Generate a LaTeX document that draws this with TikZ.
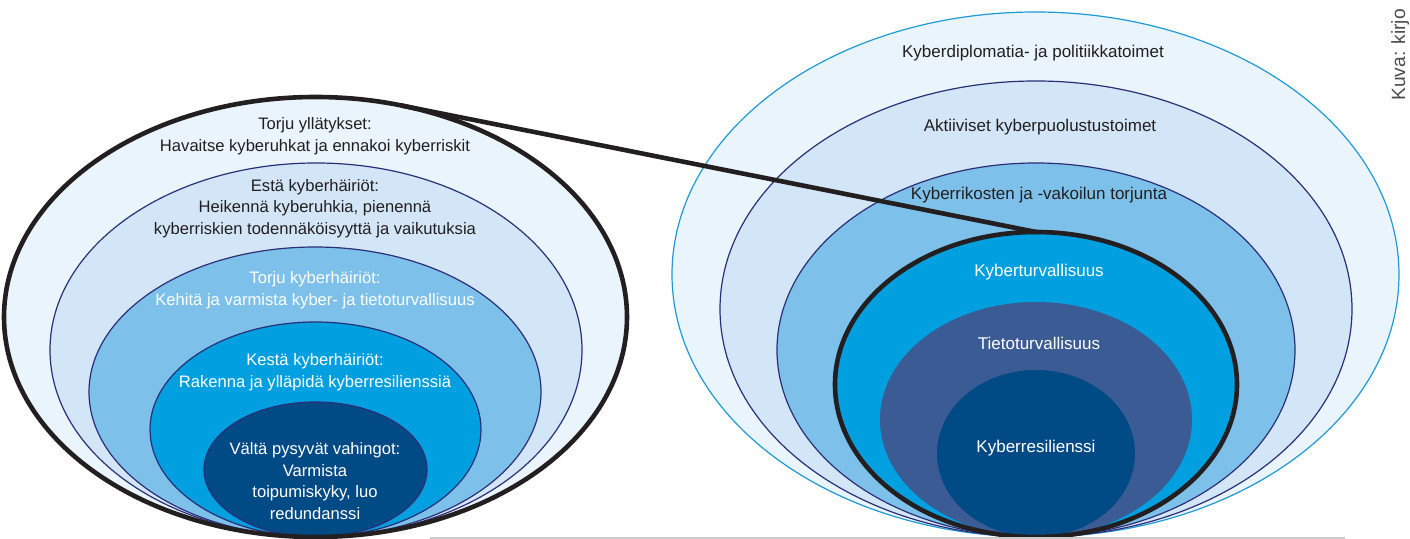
\documentclass[tikz,border=0pt]{standalone}
\usepackage{fontspec}
\setmainfont{Liberation Sans}
\usetikzlibrary{shapes.geometric,calc}
\definecolor{cPale}{HTML}{E9F4FC}
\definecolor{cLight}{HTML}{D3E6F7}
\definecolor{cMid}{HTML}{7DC1EA}
\definecolor{cCyan}{HTML}{009FDF}
\definecolor{cDark}{HTML}{004A86}
\definecolor{cSlate}{HTML}{3B5B94}
\definecolor{cNavy}{HTML}{2A2F78}
\definecolor{cSky}{HTML}{1E9AD6}
\definecolor{cInk}{HTML}{231F20}
\begin{document}
\begin{tikzpicture}[x=0.5pt,y=-0.5pt,
  ring/.style={ellipse, inner sep=0pt, outer sep=0pt},
  thinring/.style={ring, draw=cNavy, line width=0.6pt},
  heavyring/.style={ring, draw=cInk, line width=2.3pt},
  heavyline/.style={draw=cInk, line width=2.3pt, line cap=round},
  darktxt/.style={text=cInk, align=center, font=\fontsize{8.3}{10.8}\selectfont},
  whitetxt/.style={text=white, align=center, font=\fontsize{8.3}{10.8}\selectfont},
  rdarktxt/.style={text=cInk, font=\fontsize{8.5}{10.8}\selectfont},
  rwhitetxt/.style={text=white, font=\fontsize{8.5}{10.8}\selectfont}]
\useasboundingbox (0,0) rectangle (1410,539);
\clip (0,0) rectangle (1410,539);

% ---------------- left group ----------------
\node[ring, fill=cPale, minimum width=311.5pt, minimum height=220pt] (L1f) at (315.5,317) {};
\node[thinring, fill=cLight, minimum width=266pt, minimum height=187pt] (L2) at (316,350) {};
\node[thinring, fill=cMid, minimum width=226pt, minimum height=145pt] (L3) at (315,392) {};
\node[thinring, fill=cCyan, minimum width=165.5pt, minimum height=107.5pt] (L4) at (315.5,429.5) {};
\node[thinring, fill=cDark, minimum width=111.5pt, minimum height=67.5pt] (L5) at (315.5,469.5) {};
\node[heavyring, minimum width=311.5pt, minimum height=220pt] (L1) at (315.5,317) {};

\node[darktxt] (t1) at (315,136) {Torju yllätykset:\\Havaitse kyberuhkat ja ennakoi kyberriskit};
\node[darktxt] (t2) at (315,208.5) {Estä kyberhäiriöt:\\Heikennä kyberuhkia, pienennä\\kyberriskien todennäköisyyttä ja vaikutuksia};
\node[whitetxt] (t3) at (315,290.5) {Torju kyberhäiriöt:\\Kehitä ja varmista kyber- ja tietoturvallisuus};
\node[whitetxt] (t4) at (315,372.5) {Kestä kyberhäiriöt:\\Rakenna ja ylläpidä kyberresilienssiä};
\node[whitetxt] (t5) at (315,481) {Vältä pysyvät vahingot:\\Varmista\\toipumiskyky, luo\\redundanssi};

% ---------------- right group ----------------
\node[ring, draw=cSky, line width=0.6pt, fill=cPale, minimum width=363.5pt, minimum height=262.5pt] (R1) at (1035.5,274.5) {};
\node[thinring, fill=cLight, minimum width=316pt, minimum height=228pt] (R2) at (1036,309) {};
\node[thinring, fill=cMid, minimum width=259pt, minimum height=187pt] (R3) at (1036,350) {};
\node[ring, fill=cCyan, minimum width=201pt, minimum height=152.5pt] (R4f) at (1036,384.5) {};
\node[ring, fill=cSlate, minimum width=156pt, minimum height=117.5pt] (R5) at (1036,419.5) {};
\node[ring, fill=cDark, minimum width=99pt, minimum height=83.5pt] (R6) at (1036,453.5) {};
\node[heavyring, minimum width=201pt, minimum height=152.5pt] (R4) at (1036,384.5) {};

\node[rdarktxt] (r1) at (1033,53) {Kyberdiplomatia- ja politiikkatoimet};
\node[rdarktxt] (r2) at (1040,127) {Aktiiviset kyberpuolustustoimet};
\node[rdarktxt] (r3) at (1039,195) {Kyberrikosten ja -vakoilun torjunta};
\node[rwhitetxt] (r4) at (1039,272) {Kyberturvallisuus};
\node[rwhitetxt] (r5) at (1039,343) {Tietoturvallisuus};
\node[rwhitetxt] (r6) at (1036,448) {Kyberresilienssi};

% ---------------- connector ----------------
\coordinate (T) at ($(L1.center)+(74:155.75pt and 110pt)$);
\draw[heavyline] (T) -- (R4.north);

% ---------------- page rule and credit ----------------
\draw[black!20, line width=0.6pt] (430,538) -- (1345,538);
\node[rotate=90, anchor=base west, inner sep=0pt, text=black!70, font=\fontsize{9.6}{11}\selectfont] (credit) at (1405,101) {Kuva: kirjo};
\end{tikzpicture}
\end{document}
